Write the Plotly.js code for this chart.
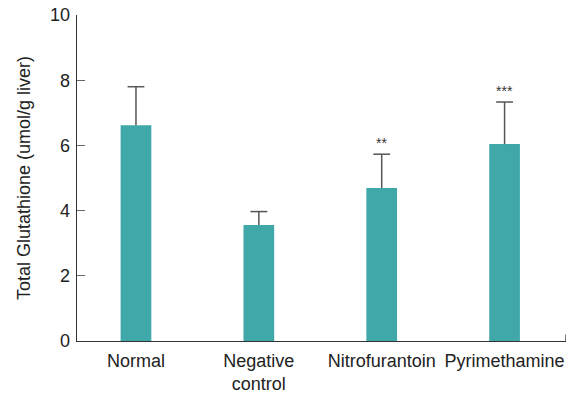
<!DOCTYPE html>
<html>
<head>
<meta charset="utf-8">
<script src="https://cdn.plot.ly/plotly-3.0.1.min.js"></script>
<style>html,body{margin:0;padding:0;background:#fff;}#chart{width:568px;height:393px;}</style>
</head>
<body>
<div id="chart"></div>
<script>
var categories = ["Normal", "Negative<br>control", "Nitrofurantoin", "Pyrimethamine"];
var glutathione = [6.62, 3.56, 4.69, 6.04];
var sdErrors = [1.18, 0.41, 1.04, 1.29];
var significance = ["", "", "**", "***"];
var yTicks = [0, 2, 4, 6, 8, 10];

var errTops = glutathione.map(function(v, i){ return v + sdErrors[i]; });

var barTrace = {
  type: "bar",
  x: categories,
  y: glutathione,
  width: 0.25,
  marker: {color: "#41a8a9", line: {width: 0}},
  error_y: {type: "data", array: sdErrors, symmetric: false, arrayminus: sdErrors.map(function(){return 0;}),
            color: "#555555", thickness: 1.5, width: 0},
  hoverinfo: "none"
};

var capTrace = {
  type: "scatter", mode: "markers",
  x: categories, y: errTops,
  marker: {symbol: "line-ew-open", size: 12, color: "#555555", line: {color: "#555555", width: 1.5}},
  hoverinfo: "none"
};

var annotations = [];
for (var i = 0; i < categories.length; i++) {
  if (significance[i]) {
    annotations.push({x: categories[i], y: errTops[i], text: significance[i],
      showarrow: false, yanchor: "bottom", yshift: 1, font: {size: 14, color: "#333"}});
  }
}

var font = "Liberation Sans, Arial, Helvetica, sans-serif";
var layout = {
  width: 568, height: 393,
  margin: {l: 77, r: 2, t: 15, b: 52},
  paper_bgcolor: "#fff", plot_bgcolor: "#fff",
  font: {family: font, color: "#222"},
  showlegend: false,
  bargap: 0.75,
  xaxis: {
    type: "category", range: [-0.48, 3.5],
    showline: true, linecolor: "#333", linewidth: 1.3,
    ticks: "", showgrid: false, zeroline: false,
    tickfont: {size: 18, color: "#222"},
    ticklabelstandoff: 3
  },
  yaxis: {
    range: [0, 10], tickvals: yTicks, ticktext: yTicks.map(String),
    showline: true, linecolor: "#333", linewidth: 1.3,
    ticks: "inside", ticklen: 8, tickwidth: 1, tickcolor: "#666",
    showgrid: false, zeroline: false,
    tickfont: {size: 18, color: "#222"},
    ticklabelstandoff: 2,
    title: {text: "Total Glutathione (umol/g liver)", font: {size: 18, color: "#222"}, standoff: 14}
  },
  shapes: [{type: "line", xref: "x", yref: "y", x0: 3.5, x1: 3.5, y0: 0, y1: 0.2,
            line: {color: "#333", width: 1.3}}],
  annotations: annotations
};

Plotly.newPlot("chart", [barTrace, capTrace], layout, {displayModeBar: false, staticPlot: true});
</script>
</body>
</html>
